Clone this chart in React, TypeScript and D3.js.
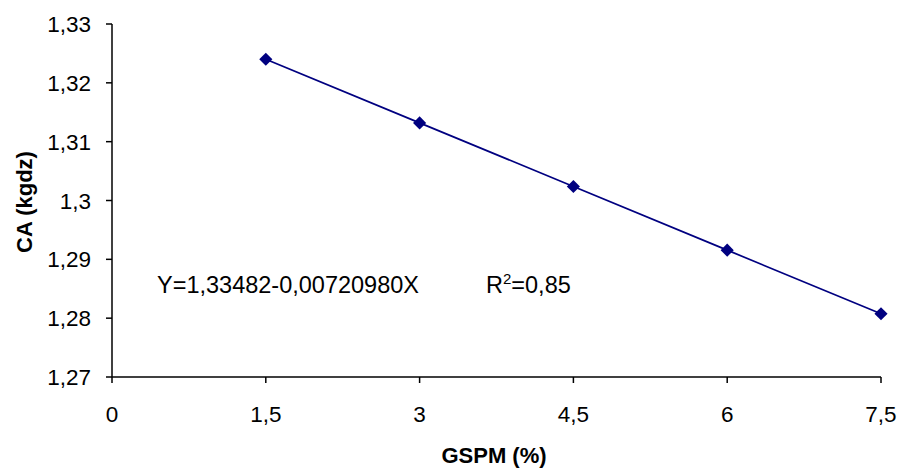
import React from "react";
import * as d3 from "d3";

const xValues = [1.5, 3, 4.5, 6, 7.5];
const yValues = [1.32401, 1.31319, 1.30238, 1.29156, 1.28075];
const xTicks = [0, 1.5, 3, 4.5, 6, 7.5];
const yTicks = [1.27, 1.28, 1.29, 1.3, 1.31, 1.32, 1.33];
const xTitle = "GSPM (%)";
const yTitle = "CA (kgdz)";
const equation = "Y=1,33482-0,00720980X";

const W = 899;
const H = 468;
const left = 112;
const right = 881;
const top = 24;
const bottom = 377;

const fmt = (v: number) => {
  const s = String(+v.toFixed(4));
  return s.replace(".", ",");
};

export default function App() {
  const x = d3.scaleLinear().domain([0, 7.5]).range([left, right]);
  const y = d3.scaleLinear().domain([1.27, 1.33]).range([bottom, top]);
  const pts = xValues.map((v, i) => [x(v), y(yValues[i])] as [number, number]);
  const line = d3.line()(pts) || "";
  const diamond = d3.symbol().type(d3.symbolDiamond2).size(110)() || "";
  const font = "Arial, 'Liberation Sans', sans-serif";
  return (
    <svg
      width={W}
      height={H}
      style={{ position: "absolute", left: 0, top: 0, background: "#fff" }}
      fontFamily={font}
    >
      <rect width={W} height={H} fill="#fff" />
      {/* axes */}
      <line x1={left} y1={top} x2={left} y2={bottom} stroke="#000" strokeWidth={1.5} />
      <line x1={left} y1={bottom} x2={right} y2={bottom} stroke="#000" strokeWidth={1.5} />
      {yTicks.map((t) => (
        <g key={"y" + t}>
          <line x1={left - 6} x2={left} y1={y(t)} y2={y(t)} stroke="#000" strokeWidth={1.5} />
          <text x={91} y={y(t)} dy="0.36em" textAnchor="end" fontSize={22.5} fill="#000">
            {fmt(t)}
          </text>
        </g>
      ))}
      {xTicks.map((t) => (
        <g key={"x" + t}>
          <line x1={x(t)} x2={x(t)} y1={bottom} y2={bottom + 6} stroke="#000" strokeWidth={1.5} />
          <text x={x(t)} y={421.5} textAnchor="middle" fontSize={22.5} fill="#000">
            {fmt(t)}
          </text>
        </g>
      ))}
      {/* series */}
      <path d={line} fill="none" stroke="#000080" strokeWidth={1.7} />
      {pts.map((p, i) => (
        <path key={i} d={diamond} transform={`translate(${p[0]},${p[1]})`} fill="#000080" />
      ))}
      {/* annotation */}
      <text x={157} y={293} fontSize={23.5} fill="#000">
        {equation}
      </text>
      <text x={486} y={293} fontSize={23.5} fill="#000">
        R<tspan dy={-9} fontSize={15}>2</tspan>
        <tspan dy={9}>=0,85</tspan>
      </text>
      {/* titles */}
      <text x={494} y={463} textAnchor="middle" fontSize={22} fontWeight="bold" fill="#000">
        {xTitle}
      </text>
      <text
        transform={`translate(32,202) rotate(-90)`}
        textAnchor="middle"
        fontSize={22}
        fontWeight="bold"
        fill="#000"
      >
        {yTitle}
      </text>
    </svg>
  );
}
